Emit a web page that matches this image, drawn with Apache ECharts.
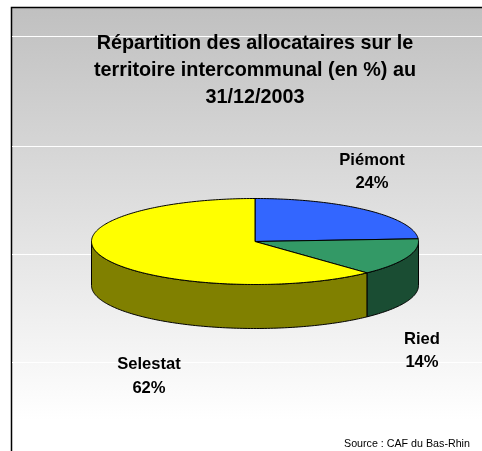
<!DOCTYPE html>
<html><head><meta charset="utf-8">
<style>html,body{margin:0;padding:0;background:#fff}#c{width:482px;height:451px}</style>
<script src="https://cdn.jsdelivr.net/npm/echarts@6/dist/echarts.min.js"></script>
</head><body><div id="c"></div>
<script>
const categories = ['Piémont', 'Ried', 'Selestat'];
const values = [24, 14, 62];
const titleText = 'Répartition des allocataires sur le\nterritoire intercommunal (en %) au\n31/12/2003';
const sourceText = 'Source : CAF du Bas-Rhin';

const topColors = ['#3366ff', '#339966', '#ffff00'];
const sideColors = ['#1a3380', '#1a4d33', '#808000'];
const labelPos = [[372, 172], [422, 351], [149, 376.5]];
const gridY = [36, 146, 254, 362];
const CX = 255, CY = 241.5, RX = 163.5, RY = 43, DEPTH = 44;

const total = values.reduce((a, b) => a + b, 0);
const starts = []; let acc = 0;
values.forEach(v => { starts.push(acc / total * 360); acc += v; });
const pt = (deg, dy) => {
  const r = deg * Math.PI / 180;
  return [CX + RX * Math.sin(r), CY - RY * Math.cos(r) + dy];
};
const arc = (a0, a1, dy) => {
  const pts = [], n = Math.max(2, Math.ceil(Math.abs(a1 - a0)));
  for (let i = 0; i <= n; i++) pts.push(pt(a0 + (a1 - a0) * i / n, dy));
  return pts;
};
const data = categories.map((name, i) => ({ name, value: [i, values[i]] }));
const stroke = { stroke: '#000', lineWidth: 1 };

const chart = echarts.init(document.getElementById('c'), null, { renderer: 'canvas' });
const bg = [
  { type: 'rect', z: -10, shape: { x: 12, y: 7, width: 470, height: 444 },
    style: { fill: new echarts.graphic.LinearGradient(0, 0, 0, 1, [
      { offset: 0, color: '#c0c0c0' }, { offset: 0.93, color: '#ffffff' }, { offset: 1, color: '#ffffff' }]) } },
  { type: 'polyline', z: -9, shape: { points: [[11.5, 451], [11.5, 7.5], [482, 7.5]] },
    style: { fill: null, stroke: '#000', lineWidth: 1.5 } }
].concat(gridY.map(y => ({ type: 'line', z: -9,
  shape: { x1: 12, y1: y + 0.5, x2: 482, y2: y + 0.5 }, style: { stroke: '#ffffff', lineWidth: 1 } })));

chart.setOption({
  animation: false,
  title: { text: titleText, left: 250, top: 25.5, textAlign: 'center',
    textStyle: { fontFamily: 'Liberation Sans', fontWeight: 'bold', fontSize: 19.8, lineHeight: 27, color: '#000' } },
  graphic: bg.concat([{ type: 'text', left: 344, top: 439,
    style: { text: sourceText, font: '10.7px "Liberation Sans"', fill: '#000' } }]),
  xAxis: { show: false }, yAxis: { show: false },
  series: [
    { type: 'custom', coordinateSystem: 'none', z: 2, silent: true, data,
      renderItem(p, api) {
        const i = api.value(0), a0 = starts[i], a1 = a0 + api.value(1) / total * 360;
        const s = Math.max(a0, 90), e = Math.min(a1, 270);
        if (e <= s) return { type: 'group', children: [] };
        return { type: 'polygon',
          shape: { points: arc(s, e, 0).concat(arc(e, s, DEPTH)) },
          style: Object.assign({ fill: sideColors[i] }, stroke) };
      } },
    { type: 'custom', coordinateSystem: 'none', z: 3, silent: true, data,
      renderItem(p, api) {
        const i = api.value(0), a0 = starts[i], a1 = a0 + api.value(1) / total * 360;
        return { type: 'group', children: [
          { type: 'polygon', shape: { points: [[CX, CY]].concat(arc(a0, a1, 0)) },
            style: Object.assign({ fill: topColors[i] }, stroke) },
          { type: 'text', x: labelPos[i][0], y: labelPos[i][1],
            style: { text: categories[i] + '\n' + api.value(1) + '%', align: 'center', verticalAlign: 'middle',
              font: 'bold 16.6px "Liberation Sans"', lineHeight: 23.5, fill: '#000' } }
        ] };
      } }
  ]
});
</script></body></html>
